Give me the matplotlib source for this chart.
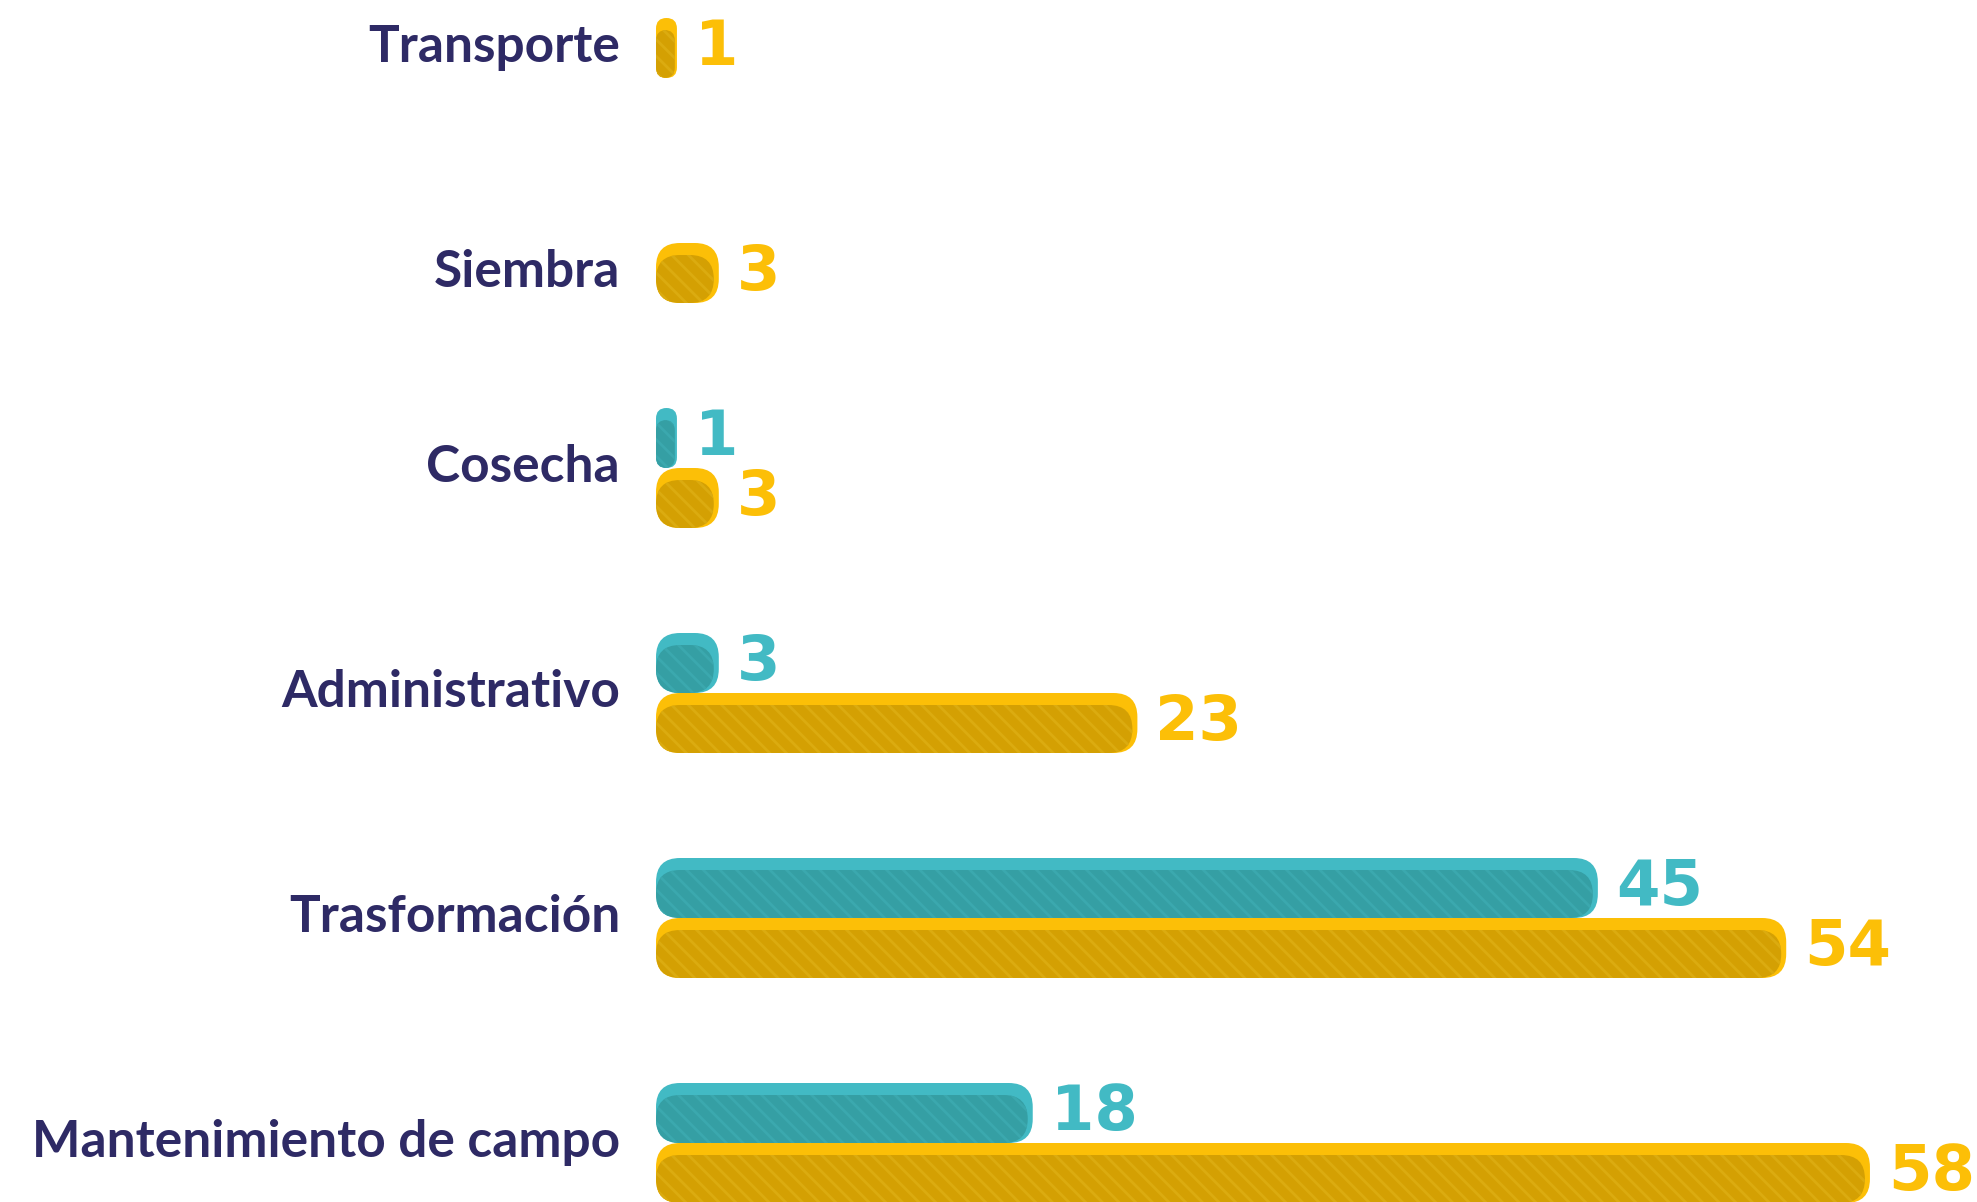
import matplotlib
matplotlib.use("Agg")
from matplotlib import pyplot as plt
from matplotlib.patches import FancyBboxPatch

categories = ['Transporte', 'Siembra', 'Cosecha', 'Administrativo',
              'Trasformación', 'Mantenimiento de campo']
teal_values = [0, 0, 1, 3, 45, 18]
yellow_values = [1, 3, 3, 23, 54, 58]

YELLOW_TOP = '#FCBF07'
YELLOW_BODY = '#D4A003'
YELLOW_HATCH = '#DBAB10'
TEAL_TOP = '#42BAC4'
TEAL_BODY = '#359FA4'
TEAL_HATCH = '#3BA8AE'
NAVY = '#2E2A65'

W, H = 1977, 1202
X0_PX = 656          # where value 0 sits
PX_PER_UNIT = 20.93
ROW_PX = 225         # distance between rows
TOP_PX = 48          # centre of first yellow bar
BAR = 60 / ROW_PX    # bar thickness in row units

plt.rcParams['hatch.linewidth'] = 2.0

fig = plt.figure(figsize=(W / 100, H / 100), dpi=100)
ax = fig.add_axes([0, 0, 1, 1])
ax.set_xlim(-X0_PX / PX_PER_UNIT, (W - X0_PX) / PX_PER_UNIT)
ax.set_ylim((H - TOP_PX) / ROW_PX, -TOP_PX / ROW_PX)
ax.axis('off')

# y units per x unit, so the rounded corners stay circular
aspect = PX_PER_UNIT / ROW_PX


def draw_bar(value, y_center, top, body, hatch_col):
    y0 = y_center - BAR / 2
    r_px = min(24, value * PX_PER_UNIT / 2)
    r = r_px / PX_PER_UNIT
    style = f"round,pad=0,rounding_size={r}"
    ax.add_patch(FancyBboxPatch((0, y0), value, BAR, boxstyle=style,
                                mutation_aspect=aspect, fc=top, lw=0))
    inset = min(5 / PX_PER_UNIT, value * 0.1)
    ax.add_patch(FancyBboxPatch((0, y0 + BAR * 0.2), value - inset, BAR * 0.8,
                                boxstyle=style, mutation_aspect=aspect,
                                fc=body, ec=hatch_col, lw=0, hatch='\\\\'))


def value_label(value, y, color):
    ax.text(value + 18 / PX_PER_UNIT, y, str(value), color=color,
            fontsize=45, fontweight='bold', family='DejaVu Sans',
            va='center', ha='left')


for i, cat in enumerate(categories):
    y_yel = i
    y_teal = i - BAR
    draw_bar(yellow_values[i], y_yel, YELLOW_TOP, YELLOW_BODY, YELLOW_HATCH)
    value_label(yellow_values[i], y_yel, YELLOW_TOP)
    if teal_values[i] > 0:
        draw_bar(teal_values[i], y_teal, TEAL_TOP, TEAL_BODY, TEAL_HATCH)
        value_label(teal_values[i], y_teal, TEAL_TOP)
        y_lab = i - BAR / 2
    else:
        y_lab = i
    ax.text(-36 / PX_PER_UNIT, y_lab, cat, color=NAVY, fontsize=37,
            fontweight='bold', family='Lato', va='center', ha='right')

fig.savefig('out.png', dpi=100)
